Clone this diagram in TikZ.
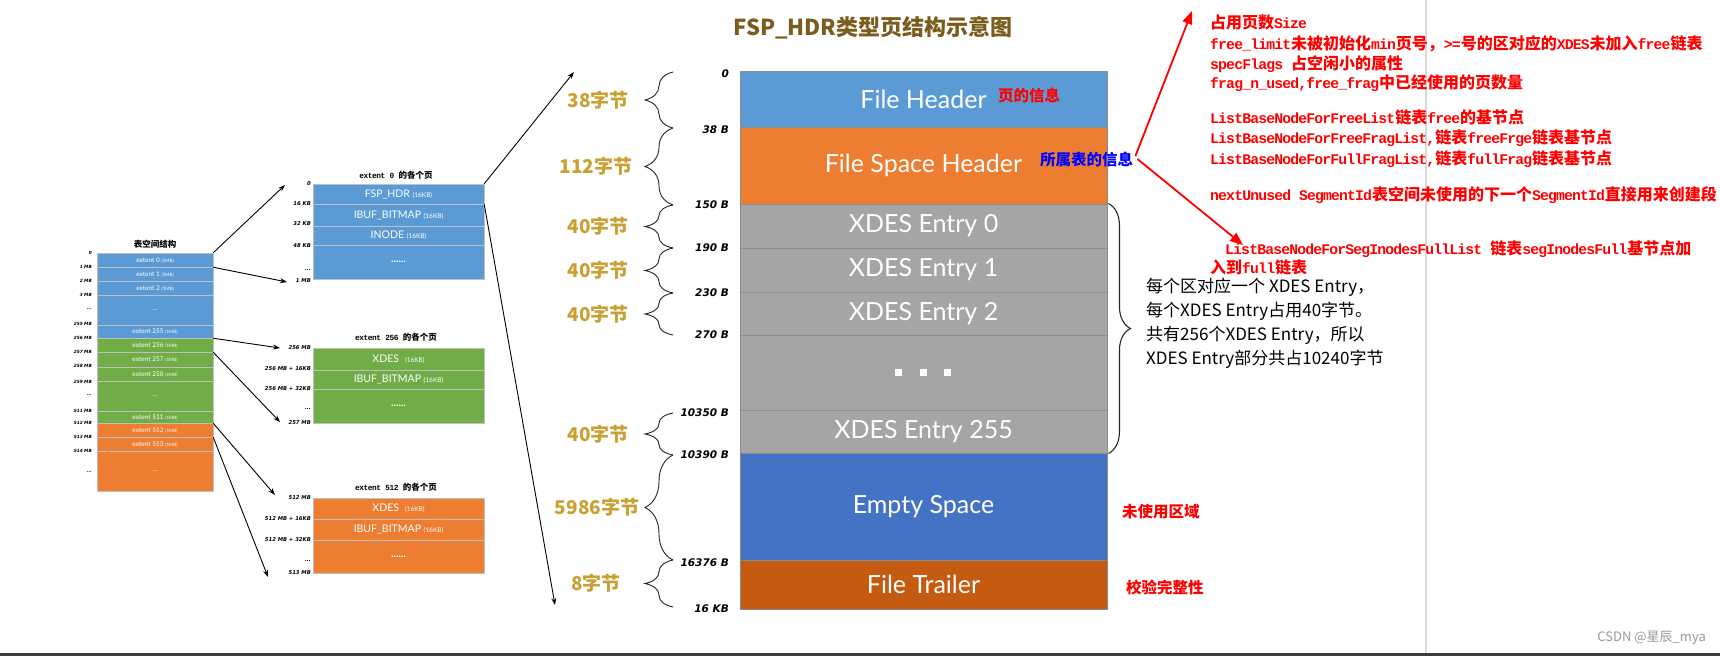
\documentclass[tikz,border=0pt]{standalone}
\usepackage{fontspec}
\setmainfont{Lato}
\newfontfamily\cjk{Noto Sans CJK SC}
\newfontfamily\offfont{DejaVu Sans}
\newfontfamily\rlat{Liberation Mono}[Scale=0.92,LetterSpace=-5.6]
\usetikzlibrary{arrows.meta,decorations.pathreplacing}
\newcommand\myfs[1]{\fontsize{#1pt}{#1pt}\selectfont}
\newcommand\tdots{...}
\newcommand\LL[1]{{\rlat #1}}
\definecolor{cblue}{HTML}{5B9BD5}
\definecolor{corange}{HTML}{ED7D31}
\definecolor{cgray}{HTML}{A5A5A5}
\definecolor{cgreen}{HTML}{70AD47}
\definecolor{cblueb}{HTML}{4472C4}
\definecolor{crust}{HTML}{C55A11}
\definecolor{cgold}{HTML}{C9A033}
\definecolor{ctitle}{HTML}{7A5C1C}
\definecolor{cbar}{HTML}{3C3C3C}
\begin{document}
\begin{tikzpicture}[x=1pt,y=-1pt,
  seg/.style={draw=black!45, line width=0.9pt, minimum width=367pt, inner sep=0pt, text=white, font=\myfs{25}},
  lrow/.style={draw=white!75!black, line width=0.5pt, minimum width=116pt, inner sep=0pt, text=white, font=\myfs{6.5}},
  drow/.style={draw=white!75!black, line width=0.5pt, minimum width=171pt, inner sep=0pt, text=white, font=\myfs{10.5}},
  offmain/.style={anchor=east, inner sep=0pt, font=\offfont\bfseries\itshape\myfs{10.5}},
  offsmall/.style={anchor=east, inner sep=0pt, font=\offfont\bfseries\itshape\myfs{4.3}},
  offdet/.style={anchor=east, inner sep=0pt, font=\offfont\bfseries\itshape\myfs{5.3}},
  bytelbl/.style={font=\cjk\bfseries\myfs{19}, text=cgold, inner sep=0pt},
  bracestyle/.style={decorate, decoration={brace, amplitude=28pt}, line width=0.9pt, draw=black!85},
  redtxt/.style={anchor=west, inner sep=0pt, font=\cjk\bfseries\myfs{16}, text=red},
  ann/.style={anchor=west, inner sep=0pt, font=\cjk\bfseries\myfs{15.5}},
  smalltitle/.style={inner sep=0pt, font=\cjk\bfseries\myfs{8.5}},
  blkarrow/.style={-{Stealth[length=7pt,width=5pt]}, line width=0.9pt},
  redarrow/.style={-{Triangle[length=13pt,width=10pt]}, line width=1.8pt, draw=red},
]
\useasboundingbox (0,0) rectangle (1720,656);
\fill[white] (0,0) rectangle (1720,656);
% separators / frame
\fill[cbar] (0,653) rectangle (1720,656);
\draw[black!15, line width=2.5pt] (1426,0) -- (1426,653);

% title
\node[inner sep=0pt, font=\cjk\bfseries\myfs{22}, text=ctitle] (title) at (873,28) {FSP\_HDR类型页结构示意图};

% ---------- left: tablespace ----------
\node[smalltitle] (lt) at (155,244) {表空间结构};
\node[lrow, fill=cblue, minimum height=14pt] (e0) at (155,260) {extent 0 {\myfs{4.5}(1MB)}};
\node[lrow, fill=cblue, minimum height=14pt] (e1) at (155,274) {extent 1 {\myfs{4.5}(1MB)}};
\node[lrow, fill=cblue, minimum height=14pt] (e2) at (155,288) {extent 2 {\myfs{4.5}(1MB)}};
\node[lrow, fill=cblue, minimum height=30pt] (ed1) at (155,310) {\tdots};
\node[lrow, fill=cblue, minimum height=13pt] (e255) at (155,331.5) {extent 255 {\myfs{4.5}(1MB)}};
\node[lrow, fill=cgreen, minimum height=14pt] (e256) at (155,345) {extent 256 {\myfs{4.5}(1MB)}};
\node[lrow, fill=cgreen, minimum height=15pt] (e257) at (155,359.5) {extent 257 {\myfs{4.5}(1MB)}};
\node[lrow, fill=cgreen, minimum height=14pt] (e258) at (155,374) {extent 258 {\myfs{4.5}(1MB)}};
\node[lrow, fill=cgreen, minimum height=30pt] (ed2) at (155,396) {\tdots};
\node[lrow, fill=cgreen, minimum height=12pt] (e511) at (155,417) {extent 511 {\myfs{4.5}(1MB)}};
\node[lrow, fill=corange, minimum height=14pt] (e512) at (155,430) {extent 512 {\myfs{4.5}(1MB)}};
\node[lrow, fill=corange, minimum height=14pt] (e513) at (155,444) {extent 513 {\myfs{4.5}(1MB)}};
\node[lrow, fill=corange, minimum height=40pt] (ed3) at (155,471) {\tdots};

\foreach \yy/\lbl [count=\i] in {253/0,267/1 MB,281/2 MB,295/3 MB,309/\tdots,324/255 MB,338/256 MB,352/257 MB,366/258 MB,382/259 MB,395/\tdots,411/511 MB,423/512 MB,437/513 MB,451/514 MB,472/\tdots}
  \node[offsmall] (lo\i) at (92,\yy) {\lbl};

% ---------- extent detail boxes ----------
\node[smalltitle] (t0) at (396,175) {\LL{extent 0 }的各个页};
\node[drow, fill=cblue, minimum height=20pt] (fsp) at (398.5,194) {FSP\_HDR {\myfs{6.5}(16KB)}};
\node[drow, fill=cblue, minimum height=22pt] (ib0) at (398.5,215) {IBUF\_BITMAP {\myfs{6.5}(16KB)}};
\node[drow, fill=cblue, minimum height=19pt] (ino) at (398.5,235.5) {INODE {\myfs{6.5}(16KB)}};
\node[drow, fill=cblue, minimum height=34pt] (dd0) at (398.5,262) {\textbf{......}};

\node[smalltitle] (t256) at (396,337) {\LL{extent 256 }的各个页};
\node[drow, fill=cgreen, minimum height=22pt] (xd256) at (398.5,359) {XDES\hspace{6pt}{\myfs{6.5}(16KB)}};
\node[drow, fill=cgreen, minimum height=19pt] (ib256) at (398.5,379.5) {IBUF\_BITMAP {\myfs{6.5}(16KB)}};
\node[drow, fill=cgreen, minimum height=34pt] (dd256) at (398.5,406) {\textbf{......}};

\node[smalltitle] (t512) at (396,487) {\LL{extent 512 }的各个页};
\node[drow, fill=corange, minimum height=21pt] (xd512) at (398.5,508.5) {XDES\hspace{6pt}{\myfs{6.5}(16KB)}};
\node[drow, fill=corange, minimum height=21pt] (ib512) at (398.5,529.5) {IBUF\_BITMAP {\myfs{6.5}(16KB)}};
\node[drow, fill=corange, minimum height=33pt] (dd512) at (398.5,556.5) {\textbf{......}};

\foreach \yy/\lbl [count=\i] in {184/0,204/16 KB,224/32 KB,246/48 KB,270/\tdots,281/1 MB,
  348/256 MB,369/256 MB + 16KB,389/256 MB + 32KB,409/\tdots,423/257 MB,
  498/512 MB,519/512 MB + 16KB,540/512 MB + 32KB,561/\tdots,573/513 MB}
  \node[offdet] (do\i) at (311,\yy) {\lbl};

% arrows left -> detail
\coordinate (a1) at (285,185);
\coordinate (a2) at (287,282);
\coordinate (a3) at (280,348);
\coordinate (a4) at (280,422);
\coordinate (a5) at (275,495);
\coordinate (a6) at (268,577);
\draw[blkarrow] (e0.north east) -- (a1);
\draw[blkarrow] (e0.south east) -- (a2);
\draw[blkarrow] (e255.south east) -- (a3);
\draw[blkarrow] (e256.south east) -- (a4);
\draw[blkarrow] (e511.south east) -- (a5);
\draw[blkarrow] (e512.south east) -- (a6);

% arrows detail -> page
\coordinate (pa) at (574,72);
\coordinate (pb) at (555,605);
\draw[blkarrow] (fsp.north east) -- (pa);
\draw[blkarrow] (fsp.south east) -- (pb);

% ---------- main page ----------
\node[seg, fill=cblue, minimum height=56pt] (fh) at (923.5,99) {File Header};
\node[seg, fill=corange, minimum height=77pt] (fsh) at (923.5,165.5) {File Space Header};
\node[seg, fill=cgray, minimum height=44pt] (x0) at (923.5,226) {XDES Entry 0};
\node[seg, fill=cgray, minimum height=44pt] (x1) at (923.5,270) {XDES Entry 1};
\node[seg, fill=cgray, minimum height=43pt] (x2) at (923.5,313.5) {XDES Entry 2};
\node[seg, fill=cgray, minimum height=75pt] (xd) at (923.5,372.5) {};
\node[seg, fill=cgray, minimum height=43pt] (x255) at (923.5,431.5) {XDES Entry 255};
\node[seg, fill=cblueb, minimum height=107pt] (es) at (923.5,506.5) {Empty Space};
\node[seg, fill=crust, minimum height=49pt] (ft) at (923.5,584.5) {File Trailer};
\foreach \dx in {-25,0,24}
  \fill[white] ([xshift=\dx pt]xd.center) ++(-3.5,-3.5) rectangle ++(7,7);

% offsets
\foreach \yy/\lbl [count=\i] in {74/0,130/38 B,205/150 B,248/190 B,293/230 B,335/270 B,413/10350 B,455/10390 B,563/16376 B,609/16 KB}
  \node[offmain] (mo\i) at (729,\yy) {\lbl};

% byte braces
\draw[bracestyle] (673,128) -- (673,72);
\draw[bracestyle] (673,205) -- (673,128);
\draw[bracestyle] (673,248) -- (673,205);
\draw[bracestyle] (673,293) -- (673,248);
\draw[bracestyle] (673,335) -- (673,293);
\draw[bracestyle] (673,455) -- (673,413);
\draw[bracestyle] (673,560) -- (673,455);
\draw[bracestyle] (673,607) -- (673,560);
\node[bytelbl] (b1) at (598,100) {38字节};
\node[bytelbl] (b2) at (596,166.5) {112字节};
\node[bytelbl] (b3) at (598,226.5) {40字节};
\node[bytelbl] (b4) at (598,270.5) {40字节};
\node[bytelbl] (b5) at (598,314) {40字节};
\node[bytelbl] (b6) at (598,434) {40字节};
\node[bytelbl] (b7) at (597,507.5) {5986字节};
\node[bytelbl] (b8) at (596,583.5) {8字节};

% right brace and its text
\draw[bracestyle, line width=1.1pt, decoration={brace, amplitude=22pt}] ([xshift=1pt]x0.north east) -- ([xshift=1pt]x255.south east);
\node[anchor=west, inner sep=0pt, font=\cjk\myfs{17}] (xtxt) at (1146,287) {每个区对应一个 XDES Entry，};
\node[anchor=west, inner sep=0pt, font=\cjk\myfs{17}] (xtxt2) at (1146,311) {每个XDES Entry占用40字节。};
\node[anchor=west, inner sep=0pt, font=\cjk\myfs{17}] (xtxt3) at (1146,335) {共有256个XDES Entry，所以};
\node[anchor=west, inner sep=0pt, font=\cjk\myfs{17}] (xtxt4) at (1146,359) {XDES Entry部分共占10240字节};

% annotations
\node[ann, text=red] (pinfo) at (998,96) {页的信息};
\node[ann, text=blue] (tinfo) at (1040,160) {所属表的信息};
\node[ann, text=red] (unused) at (1122,512) {未使用区域};
\node[ann, text=red] (check) at (1126,587) {校验完整性};

\node[redtxt] (r1) at (1210,22) {占用页数\LL{Size}};
\node[redtxt] (r2) at (1210,44) {\LL{free\_limit}未被初始化\LL{min}页号，\LL{>=}号的区对应的\LL{XDES}未加入\LL{free}链表};
\node[redtxt] (r3) at (1210,64) {\LL{specFlags }占空闲小的属性};
\node[redtxt] (r4) at (1210,83) {\LL{frag\_n\_used,free\_frag}中已经使用的页数量};
\node[redtxt] (r5) at (1210,117) {\LL{ListBaseNodeForFreeList}链表\LL{free}的基节点};
\node[redtxt] (r6) at (1210,138) {\LL{ListBaseNodeForFreeFragList,}链表\LL{freeFrge}链表基节点};
\node[redtxt] (r7) at (1210,159) {\LL{ListBaseNodeForFullFragList,}链表\LL{fullFrag}链表基节点};
\node[redtxt] (r8) at (1210,195) {\LL{nextUnused SegmentId}表空间未使用的下一个\LL{SegmentId}直接用来创建段};
\node[redtxt] (r9) at (1225,249) {\LL{ListBaseNodeForSegInodesFullList }链表\LL{segInodesFull}基节点加};
\node[redtxt] (r10) at (1210,267) {入到\LL{full}链表};

\coordinate (ru) at (1192,11);
\coordinate (rd) at (1243,245);
\draw[redarrow] ([xshift=2pt,yshift=4pt]tinfo.east) -- (ru);
\draw[redarrow] ([xshift=4pt,yshift=1pt]tinfo.east) -- (rd);

% watermark
\node[anchor=east, inner sep=0pt, font=\cjk\myfs{13}, text=black!40] (wm) at (1706,638) {CSDN @星辰\_mya};
\end{tikzpicture}
\end{document}
